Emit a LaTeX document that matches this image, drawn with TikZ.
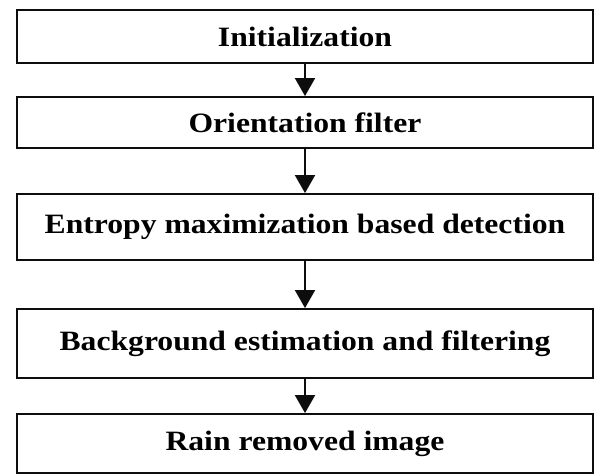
\documentclass[tikz,border=0pt]{standalone}
\usepackage{fontspec}
\setmainfont{Liberation Serif}
\newfontfamily\stagefont[FakeStretch=1.13]{Liberation Serif}
\usetikzlibrary{arrows.meta}
\definecolor{BoxLine}{gray}{0.05}

\begin{document}
\begin{tikzpicture}[x=1pt,y=1pt,
  stage/.style={draw=BoxLine, line width=1.8pt, fill=white, minimum width=576pt,
    inner sep=0pt, font=\stagefont\bfseries\fontsize{28}{32}\selectfont},
  flow/.style={draw=BoxLine, line width=1.8pt, -{Triangle[width=20pt,length=18pt]}}]
  \useasboundingbox (0,0) rectangle (595,-474);
  \node[stage, minimum height=53pt] (init) at (305,-36.5) {Initialization};
  \node[stage, minimum height=51pt] (orient) at (305,-122.5) {Orientation filter};
  \node[stage, minimum height=66pt] (entropy) at (305,-227) {Entropy maximization based detection};
  \node[stage, minimum height=69pt] (backgr) at (305,-343.5) {Background estimation and filtering};
  \node[stage, minimum height=59pt] (result) at (305,-443.5) {Rain removed image};
  \draw[flow] (init.south) -- (orient.north);
  \draw[flow] (orient.south) -- (entropy.north);
  \draw[flow] (entropy.south) -- (backgr.north);
  \draw[flow] (backgr.south) -- (result.north);
\end{tikzpicture}
\end{document}
